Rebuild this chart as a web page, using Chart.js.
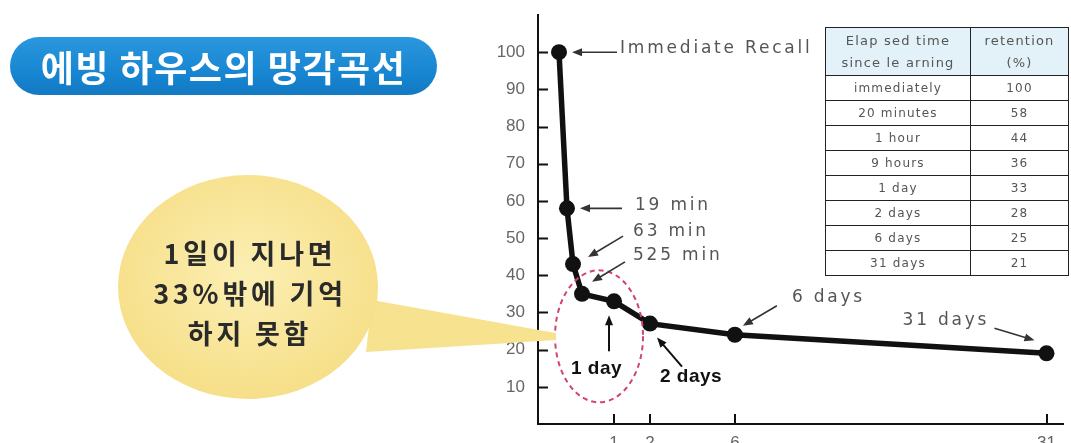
<!DOCTYPE html>
<html>
<head>
<meta charset="utf-8">
<script src="https://cdn.jsdelivr.net/npm/chart.js@4.4.1/dist/chart.umd.min.js"></script>
<style>
  html, body { margin:0; padding:0; background:#fff; }
  #wrap { position:relative; width:1071px; height:443px; overflow:hidden; background:#fff; }
  #c { position:absolute; left:0; top:0; }
  #title { position:absolute; left:10px; top:37px; width:427px; height:58px; border-radius:29px;
    background:linear-gradient(#2a97de,#1583cf 70%,#1479c2); color:#fff; font-family:"Noto Sans CJK KR";
    font-weight:700; font-size:36px; line-height:58px; text-align:center; letter-spacing:1.5px; }
  #bubble { position:absolute; left:0; top:0; pointer-events:none; }
  #tbl { position:absolute; left:825px; top:27px; border-collapse:collapse; font-family:"DejaVu Sans";
    font-size:12px; color:#555; letter-spacing:1.2px; }
  #tbl td { border:1.5px solid #222; text-align:center; padding:0; height:24px; line-height:14px; }
  #tbl tr.h td { height:47px; background:#e3f2f9; line-height:22px; font-size:13px; }
</style>
</head>
<body>
<div id="wrap">
  <canvas id="c" width="1071" height="470"></canvas>
  <div id="title"></div>
  <svg id="bubble" width="1071" height="443"></svg>
  <table id="tbl"></table>
</div>
<script>
// ---- data ----
const pointLabels = ['Immediate Recall', '19 min', '63 min', '525 min', '1 day', '2 days', '6 days', '31 days'];
const elapsedMinutes = [0, 19, 63, 525, 1440, 2880, 8640, 44640];
const retention = [100, 58, 43, 35, 33, 27, 24, 19];
const xTickMinutes = [1440, 2880, 8640, 44640];
const xTickLabels = ['1', '2', '6', '31'];
const yTicks = [10, 20, 30, 40, 50, 60, 70, 80, 90, 100];
const tableHeader = [['Elap sed time', 'since le arning'], ['retention', '(%)']];
const tableTimes = ['immediately', '20 minutes', '1 hour', '9 hours', '1 day', '2 days', '6 days', '31 days'];
const tableRetention = [100, 58, 44, 36, 33, 28, 25, 21];
const titleText = '에빙 하우스의 망각곡선';
const bubbleLines = ['1일이 지나면', '33%밖에 기억', '하지 못함'];

// ---- piecewise (broken) time scale, like the hand-drawn original axis ----
class BrokenScale extends Chart.LinearScale {
  determineDataLimits() {
    const k = this.options.knots;
    this.min = k[0][0];
    this.max = k[k.length - 1][0];
  }
  buildTicks() {
    return this.options.tickValues.map(v => ({ value: v }));
  }
  getPixelForValue(v) {
    const k = this.options.knots;
    let f = 0;
    if (v <= k[0][0]) f = k[0][1];
    else if (v >= k[k.length - 1][0]) f = k[k.length - 1][1];
    else {
      for (let i = 1; i < k.length; i++) {
        if (v <= k[i][0]) {
          const t = (v - k[i - 1][0]) / (k[i][0] - k[i - 1][0]);
          f = k[i - 1][1] + t * (k[i][1] - k[i - 1][1]);
          break;
        }
      }
    }
    return this.getPixelForDecimal(f);
  }
  getValueForPixel(p) {
    const k = this.options.knots;
    const f = this.getDecimalForPixel(p);
    for (let i = 1; i < k.length; i++) {
      if (f <= k[i][1]) {
        const t = (f - k[i - 1][1]) / (k[i][1] - k[i - 1][1]);
        return k[i - 1][0] + t * (k[i][0] - k[i - 1][0]);
      }
    }
    return k[k.length - 1][0];
  }
}
BrokenScale.id = 'broken';
BrokenScale.defaults = Chart.LinearScale.defaults;
Chart.register(BrokenScale);

// callouts: text and arrow placed relative to each point
const callouts = [
  { i: 0, tail: [58, 0], tip: [13, 0], text: [61, -4], bold: false },
  { i: 1, tail: [55, 0], tip: [13, 0], text: [68, -3], bold: false },
  { i: 2, tail: [50, -28], tip: [15, -7], text: [60, -33], bold: false },
  { i: 3, tail: [43, -32], tip: [10, -12], text: [51, -38], bold: false },
  { i: 4, tail: [-5, 50], tip: [-5, 14], text: [-43, 67], bold: true },
  { i: 5, tail: [32, 43], tip: [7, 14], text: [10, 53], bold: true },
  { i: 6, tail: [42, -29], tip: [8, -9], text: [57, -37], bold: false },
  { i: 7, tail: [-52, -25], tip: [-12, -13], text: [-144, -33], bold: false }
];

function arrow(ctx, x1, y1, x2, y2) {
  const a = Math.atan2(y2 - y1, x2 - x1), L = 10, W = 4;
  ctx.beginPath(); ctx.moveTo(x1, y1);
  ctx.lineTo(x2 - L * Math.cos(a) * 0.8, y2 - L * Math.sin(a) * 0.8); ctx.stroke();
  ctx.beginPath(); ctx.moveTo(x2, y2);
  ctx.lineTo(x2 - L * Math.cos(a) + W * Math.sin(a), y2 - L * Math.sin(a) - W * Math.cos(a));
  ctx.lineTo(x2 - L * Math.cos(a) - W * Math.sin(a), y2 - L * Math.sin(a) + W * Math.cos(a));
  ctx.closePath(); ctx.fill();
}

const decor = {
  id: 'decor',
  afterDraw(chart) {
    const ctx = chart.ctx, area = chart.chartArea;
    const xs = chart.scales.x, ys = chart.scales.y;
    ctx.save();
    // inward tick marks
    ctx.strokeStyle = '#111'; ctx.lineWidth = 2;
    yTicks.forEach(v => {
      const y = Math.round(ys.getPixelForValue(v)) + 0.5;
      ctx.beginPath(); ctx.moveTo(area.left, y); ctx.lineTo(area.left + 10, y); ctx.stroke();
    });
    xTickMinutes.forEach(v => {
      const x = Math.round(xs.getPixelForValue(v));
      ctx.beginPath(); ctx.moveTo(x, area.bottom); ctx.lineTo(x, area.bottom - 10); ctx.stroke();
    });
    const pts = chart.getDatasetMeta(0).data;
    // red dashed ellipse around the 1-day region
    const p4 = pts[4];
    ctx.strokeStyle = '#d2456a'; ctx.lineWidth = 2; ctx.setLineDash([5, 4]);
    ctx.beginPath(); ctx.ellipse(p4.x - 15, p4.y + 35, 44, 66, 0, 0, Math.PI * 2); ctx.stroke();
    ctx.setLineDash([]);
    // callouts
    callouts.forEach(c => {
      const p = pts[c.i];
      ctx.strokeStyle = c.bold ? '#111' : '#333';
      ctx.fillStyle = c.bold ? '#111' : '#333';
      ctx.lineWidth = c.bold ? 2 : 1.6;
      arrow(ctx, p.x + c.tail[0], p.y + c.tail[1], p.x + c.tip[0], p.y + c.tip[1]);
      ctx.textBaseline = 'middle'; ctx.textAlign = 'left';
      if (c.bold) {
        ctx.font = 'bold 19px "Liberation Sans"'; ctx.fillStyle = '#111'; ctx.letterSpacing = '0.5px';
      } else {
        ctx.font = '17px "DejaVu Sans"'; ctx.fillStyle = '#555'; ctx.letterSpacing = '2.8px';
      }
      ctx.fillText(pointLabels[c.i], p.x + c.text[0], p.y + c.text[1]);
    });
    ctx.restore();
  }
};

new Chart(document.getElementById('c'), {
  type: 'line',
  data: {
    datasets: [{
      data: elapsedMinutes.map((m, i) => ({ x: m, y: retention[i] })),
      borderColor: '#111', backgroundColor: '#111', borderWidth: 5.5,
      pointRadius: 8, pointBackgroundColor: '#111', pointBorderWidth: 0, tension: 0
    }]
  },
  options: {
    responsive: false, animation: false,
    layout: { padding: { left: 480, right: 8, top: 15, bottom: 0 } },
    plugins: { legend: { display: false }, tooltip: { enabled: false } },
    scales: {
      x: {
        type: 'broken',
        knots: [[-26, 0], [0, 0.040], [19, 0.0552], [63, 0.0667], [525, 0.0838], [1440, 0.1448],
                [2880, 0.2133], [8640, 0.375], [44640, 0.9686], [46560, 1]],
        tickValues: xTickMinutes,
        grid: { display: false, drawTicks: false },
        border: { display: true, color: '#111', width: 2 },
        ticks: { padding: 9, color: '#666', autoSkip: false, maxRotation: 0,
                 font: { family: 'Liberation Sans', size: 17 },
                 callback: (v) => { const j = xTickMinutes.indexOf(v); return j >= 0 ? xTickLabels[j] : ''; } },
        afterFit: (s) => { s.height = 46; s.paddingLeft = 0; s.paddingRight = 0; }
      },
      y: {
        type: 'linear', min: 0, max: 110,
        afterBuildTicks: (s) => { s.ticks = yTicks.map(v => ({ value: v })); },
        grid: { display: false, drawTicks: false },
        border: { display: true, color: '#111', width: 2 },
        ticks: { padding: 13, color: '#666', font: { family: 'Liberation Sans', size: 17 } },
        afterFit: (s) => { s.width = 58; s.paddingTop = 0; s.paddingBottom = 0; }
      }
    }
  },
  plugins: [decor]
});

// ---- title ----
document.getElementById('title').textContent = titleText;

// ---- speech bubble ----
const svgNS = 'http://www.w3.org/2000/svg';
const svg = document.getElementById('bubble');
svg.innerHTML = `<defs><radialGradient id="yg" cx="50%" cy="45%" r="55%">
  <stop offset="0%" stop-color="#fcefb4"/><stop offset="100%" stop-color="#f6df88"/></radialGradient></defs>
  <path d="M372,300 L556,333 L556,340 L366,352 Z" fill="#f7e290"/>
  <ellipse cx="248" cy="287" rx="130" ry="112" fill="url(#yg)"/>`;
bubbleLines.forEach((t, k) => {
  const el = document.createElementNS(svgNS, 'text');
  el.setAttribute('x', 250); el.setAttribute('y', 252 + k * 40);
  el.setAttribute('text-anchor', 'middle'); el.setAttribute('dominant-baseline', 'central');
  el.setAttribute('font-family', 'Noto Sans CJK KR'); el.setAttribute('font-weight', '700');
  el.setAttribute('font-size', '27'); el.setAttribute('fill', '#2a2a2a');
  el.setAttribute('letter-spacing', '3.8');
  el.textContent = t;
  svg.appendChild(el);
});

// ---- table ----
const tbl = document.getElementById('tbl');
let html = '<colgroup><col style="width:145px"><col style="width:98px"></colgroup>';
html += '<tr class="h"><td>' + tableHeader[0].join('<br>') + '</td><td>' + tableHeader[1].join('<br>') + '</td></tr>';
tableTimes.forEach((t, i) => { html += '<tr><td>' + t + '</td><td>' + tableRetention[i] + '</td></tr>'; });
tbl.innerHTML = html;
</script>
</body>
</html>
